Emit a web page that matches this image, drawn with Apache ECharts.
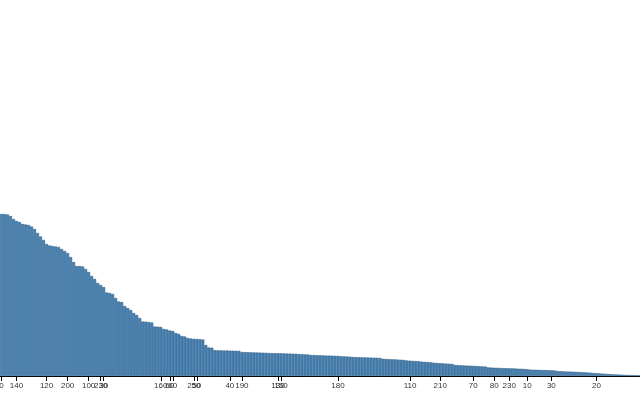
<!DOCTYPE html>
<html><head><meta charset="utf-8">
<script src="https://cdn.jsdelivr.net/npm/echarts@6/dist/echarts.min.js"></script>
<style>html,body{margin:0;padding:0;background:#fff}#c{width:640px;height:400px}</style>
</head><body><div id="c"></div>
<script>
// bar values, sorted descending
const values = [
162,162,161.5,160,157,155,154,152,151.5,151,
149.5,147,143,139.5,136,132,130.5,130,129.5,129,
127,125,123,119,114,110,110,109.5,107,104,
100,97,93,91,89,83.5,83,82,78,74.5,
74,70,68,66,63,61,58,54.5,54.3,54,
53.5,49.5,49.3,49,47,46.5,45.5,45,43,42,
40,39.5,38,37.5,37.2,37,36.8,36.5,31,28.5,
28.3,
25.8,25.7,25.6,25.5,25.5,25.4,25.3,25.2,25.1,
24,23.9,23.8,23.7,23.6,23.5,23.4,23.3,23.2,
23.0,22.9,22.8,22.8,22.7,22.6,22.5,22.4,22.3,22.2,
21.9,21.8,21.6,21.5,
21.0,20.9,20.8,20.7,20.6,20.5,20.4,20.3,20.2,20.1,
19.8,19.6,19.5,19.3,
19.0,18.9,18.8,18.7,18.6,18.5,18.4,18.3,18.2,18.0,
17.2,17.0,16.8,16.7,16.6,16.4,16.2,16.0,
15.5,15.3,15.1,14.9,14.7,
14.3,14.1,13.9,13.7,
13.2,13.0,12.8,12.6,12.4,12.2,12.0,
11.0,10.8,10.7,10.5,10.4,10.3,10.1,10.0,9.8,9.6,9.4,
8.6,8.4,8.3,8.2,8.0,7.9,7.8,7.7,7.6,7.5,7.3,7.2,7.0,6.8,
6.4,6.3,6.2,6.1,6.0,5.9,5.8,5.7,5.5,
5.0,4.8,4.7,4.5,4.4,4.3,4.2,4.0,3.9,3.7,3.5,3.3,
3.0,2.8,2.6,2.4,2.2,2.0,1.8,1.6,1.5,1.4,
1.2,1.1,1.0,0.9,0.8,0.7
];
// category names shown as tick labels (by rank in the sorted order)
const tickLabels = {
0:'0',5:'140',15:'120',22:'200',29:'100',33:'230',34:'30',53:'160',56:'60',57:'60',
64:'250',65:'50',76:'40',80:'190',92:'130',93:'150',112:'180',136:'110',146:'210',
157:'70',164:'80',169:'230',175:'10',183:'30',198:'20'
};
const yMax = 376;

const categories = values.map((v, i) => tickLabels[i] !== undefined ? tickLabels[i] : '');
const showTick = (i) => tickLabels[i] !== undefined;

const chart = echarts.init(document.getElementById('c'), null, {renderer: 'canvas'});
chart.setOption({
  animation: false,
  grid: {left: 0, right: 0, top: 0, bottom: 24, containLabel: false, outerBoundsMode: 'none'},
  xAxis: {
    type: 'category',
    data: categories,
    boundaryGap: true,
    axisLine: {show: true, lineStyle: {color: '#000', width: 1}},
    axisTick: {show: true, alignWithLabel: true, interval: showTick, length: 5, lineStyle: {color: '#000'}},
    axisLabel: {interval: showTick, color: '#333', fontSize: 8, fontFamily: 'Liberation Sans', margin: 6, hideOverlap: false}
  },
  yAxis: {type: 'value', min: 0, max: yMax, show: false, splitLine: {show: false}},
  series: [{
    type: 'bar',
    data: values,
    barCategoryGap: '0%',
    itemStyle: {color: '#4682b4', borderColor: '#2f5f8a', borderWidth: 0.6}
  }]
});
</script></body></html>
